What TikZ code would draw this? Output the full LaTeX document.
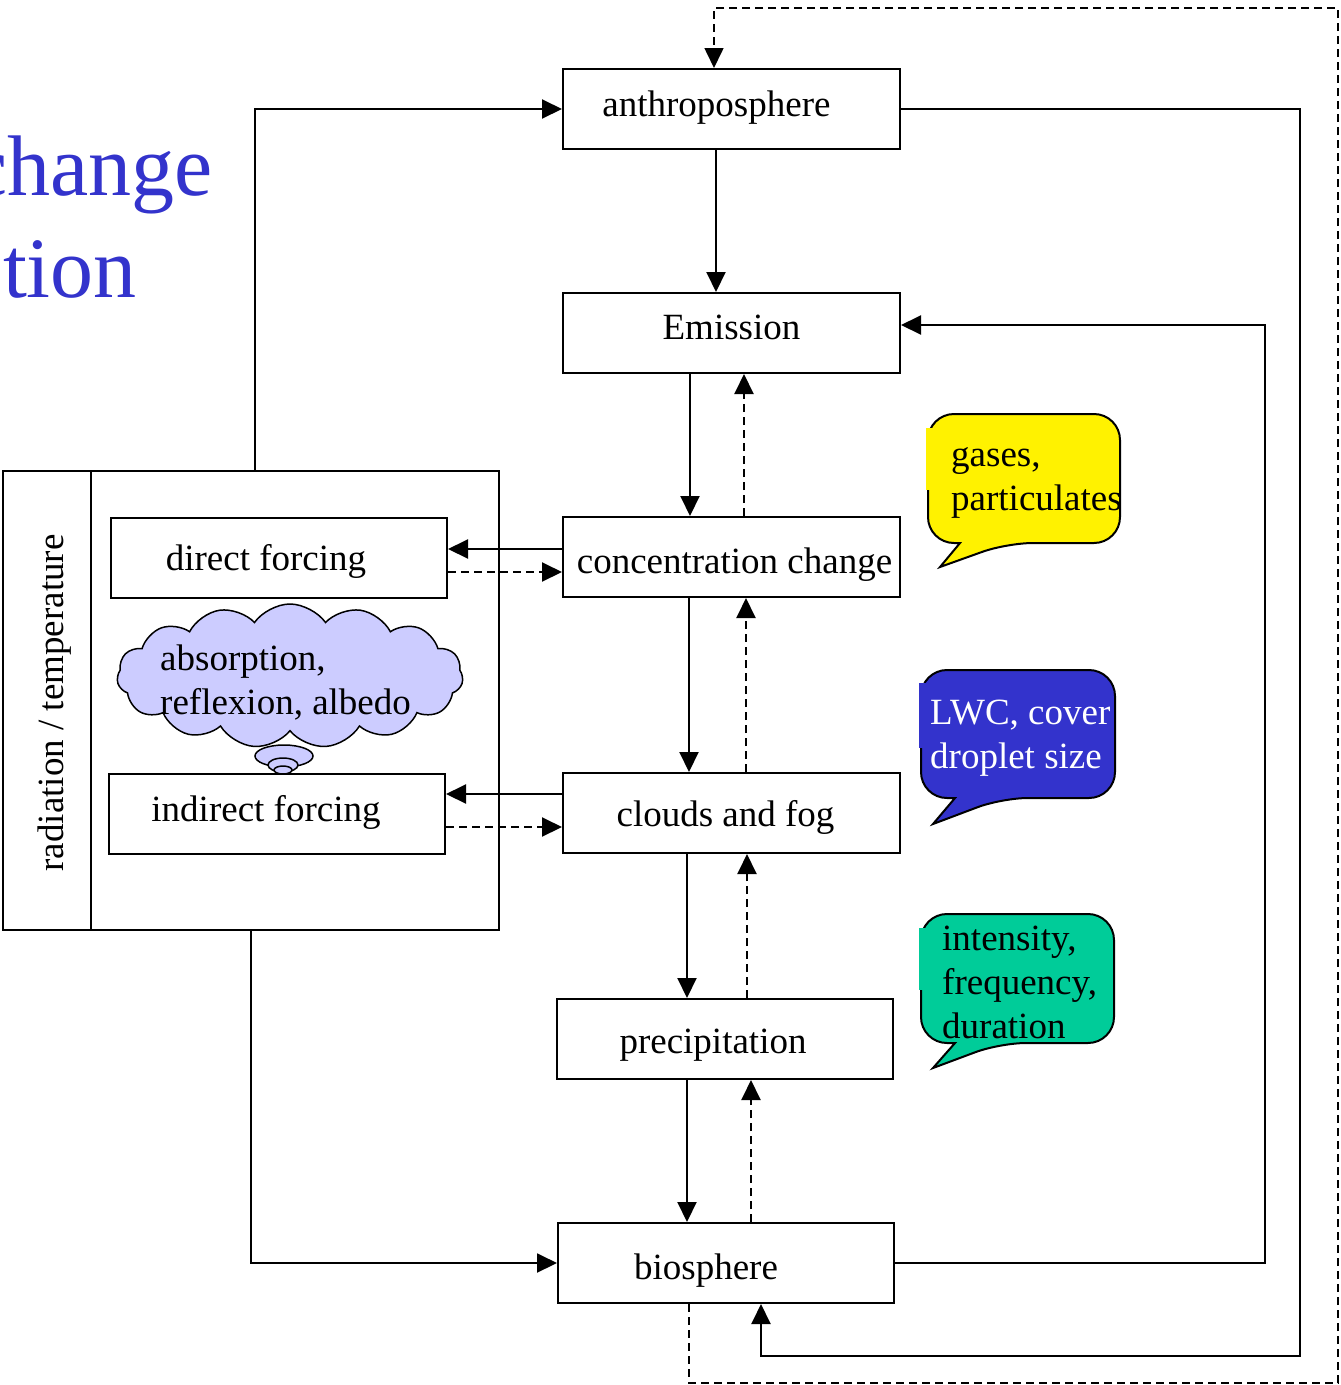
\documentclass[tikz,border=0pt]{standalone}
\usepackage{fontspec}
\setmainfont{Liberation Serif}
\usetikzlibrary{arrows.meta,shapes.symbols}
\definecolor{titleblue}{RGB}{51,51,204}
\definecolor{cloudfill}{RGB}{204,204,255}
\definecolor{bubteal}{RGB}{0,204,153}

\begin{document}
\begin{tikzpicture}[x=1pt,y=-1pt,
  every node/.style={font=\fontsize{37}{44}\selectfont},
  box/.style={draw, line width=2pt, minimum width=337pt, minimum height=80pt, inner sep=0pt,
    text height=25pt, text depth=8pt},
  flow/.style={line width=2pt, -{Triangle[length=20pt,width=19pt]}},
  back/.style={flow, dash pattern=on 8pt off 5pt},
  bubble/.style={line width=2pt, rounded corners=26pt},
  bubtext/.style={anchor=base west, align=left, inner sep=0pt}]
\useasboundingbox (0,0) rectangle (1341,1385);

% title, cut at the left margin
\node[anchor=base east, inner sep=0pt, text=titleblue, font=\fontsize{86}{102}\selectfont] (title1) at (213,195) {change};
\node[anchor=base east, inner sep=0pt, text=titleblue, font=\fontsize{86}{102}\selectfont] (title2) at (137,297) {tion};

% main chain
\node[box] (anthro) at (731.5,109) {\hspace*{-30pt}\raisebox{1pt}{anthroposphere}};
\node[box] (emis) at (731.5,333) {\raisebox{2.5pt}{Emission}};
\node[box] (conc) at (731.5,557) {\hspace*{6pt}\raisebox{-8pt}{concentration change}};
\node[box] (cloud) at (731.5,813) {\hspace*{-12pt}\raisebox{-5pt}{clouds and fog}};
\node[box, minimum width=336pt] (precip) at (725,1039) {\hspace*{-24pt}\raisebox{-6pt}{precipitation}};
\node[box, minimum width=336pt] (bio) at (726,1263) {\hspace*{-40pt}\raisebox{-8pt}{biosphere}};

% radiation / temperature block
\node[draw, line width=2pt, minimum width=496pt, minimum height=459pt] (radframe) at (251,700.5) {};
\node[rotate=90] (radlabel) at (55,703) {radiation / temperature};
\draw[line width=2pt] ([xshift=89pt]radframe.north west) -- ([xshift=89pt]radframe.south west);
\node[box, minimum width=336pt] (direct) at (279,558) {\hspace*{-26pt}\raisebox{-4pt}{direct forcing}};
\node[box, minimum width=336pt] (indirect) at (277,814) {\hspace*{-22pt}\raisebox{1pt}{indirect forcing}};
\node[cloud, cloud puffs=15, cloud puff arc=110, cloud ignores aspect, draw, line width=1.5pt,
  fill=cloudfill, minimum width=346pt, minimum height=144pt] (absorb) at (290,676) {};
\node[bubtext] (absorbtxt) at (160,714) {absorption,\\reflexion, albedo};
\draw[line width=1.5pt, fill=cloudfill] (284,756) ellipse (29pt and 11pt);
\draw[line width=1.5pt, fill=cloudfill] (283,765) ellipse (15pt and 7pt);
\draw[line width=1.5pt, fill=cloudfill] (283,770) ellipse (9pt and 4pt);

% down the chain and back up
\draw[flow] ([xshift=-15.5pt]anthro.south) -- ([xshift=-15.5pt]emis.north);
\draw[flow] ([xshift=-41.5pt]emis.south) -- ([xshift=-41.5pt]conc.north);
\draw[back] ([xshift=12.5pt]conc.north) -- ([xshift=12.5pt]emis.south);
\draw[flow] ([xshift=-42.5pt]conc.south) -- ([xshift=-42.5pt]cloud.north);
\draw[back] ([xshift=14.5pt]cloud.north) -- ([xshift=14.5pt]conc.south);
\draw[flow] ([xshift=-44.5pt]cloud.south) -- ([xshift=-44.5pt]cloud.south |- precip.north);
\draw[back] ([xshift=22pt]precip.north) -- ([xshift=22pt]precip.north |- cloud.south);
\draw[flow] ([xshift=-38pt]precip.south) -- ([xshift=-38pt]precip.south |- bio.north);
\draw[back] ([xshift=25pt]bio.north) -- ([xshift=25pt]bio.north |- precip.south);

% forcing
\draw[flow] ([yshift=8pt]conc.west) -- ([yshift=8pt]conc.west -| direct.east);
\draw[back] ([yshift=-15pt]conc.west -| direct.east) -- ([yshift=-15pt]conc.west);
\draw[flow] ([yshift=19pt]cloud.west) -- ([yshift=19pt]cloud.west -| indirect.east);
\draw[back] ([yshift=-14pt]cloud.west -| indirect.east) -- ([yshift=-14pt]cloud.west);

% feedback loops
\coordinate (loopR) at (1300,1356);
\coordinate (loopE) at (1265,325);
\coordinate (dashBR) at (1338,1383);
\coordinate (dashTR) at (1338,8);
\draw[flow] ([xshift=4pt]radframe.north) |- (anthro.west);
\draw[flow] (radframe.south) |- (bio.west);
\draw[flow] (anthro.east) -| (loopR) -| ([xshift=35pt]bio.south);
\draw[flow] (bio.east) -| (loopE) -- ([yshift=8pt]emis.east);
\draw[back, line width=1.6pt] ([xshift=-37pt]bio.south) |- (dashBR) -- (dashTR) -| ([xshift=-17.5pt]anthro.north);

% callouts
\draw[bubble, fill=yellow] (928,480) -- (928,414) -- (1120,414) -- (1120,543) -- (1007,543)
  [sharp corners] -- (940,567) -- (960,543) [rounded corners=26pt] -- (928,543) -- cycle;
\fill[yellow] (926,428) rectangle (940,490);
\node[bubtext] (gases) at (951,510) {gases,\\particulates};

\draw[bubble, fill=titleblue] (921,735) -- (921,670) -- (1115,670) -- (1115,798) -- (1002,798)
  [sharp corners] -- (933,824) -- (955,798) [rounded corners=26pt] -- (921,798) -- cycle;
\fill[titleblue] (919,683) rectangle (935,748);
\node[bubtext, text=white] (lwc) at (930,768) {LWC, cover\\droplet size};

\draw[bubble, fill=bubteal] (921,980) -- (921,914) -- (1114,914) -- (1114,1043) -- (1000,1043)
  [sharp corners] -- (933,1068) -- (955,1043) [rounded corners=26pt] -- (921,1043) -- cycle;
\fill[bubteal] (919,928) rectangle (935,990);
\node[bubtext] (intens) at (942,1038) {intensity,\\frequency,\\duration};
\end{tikzpicture}
\end{document}
